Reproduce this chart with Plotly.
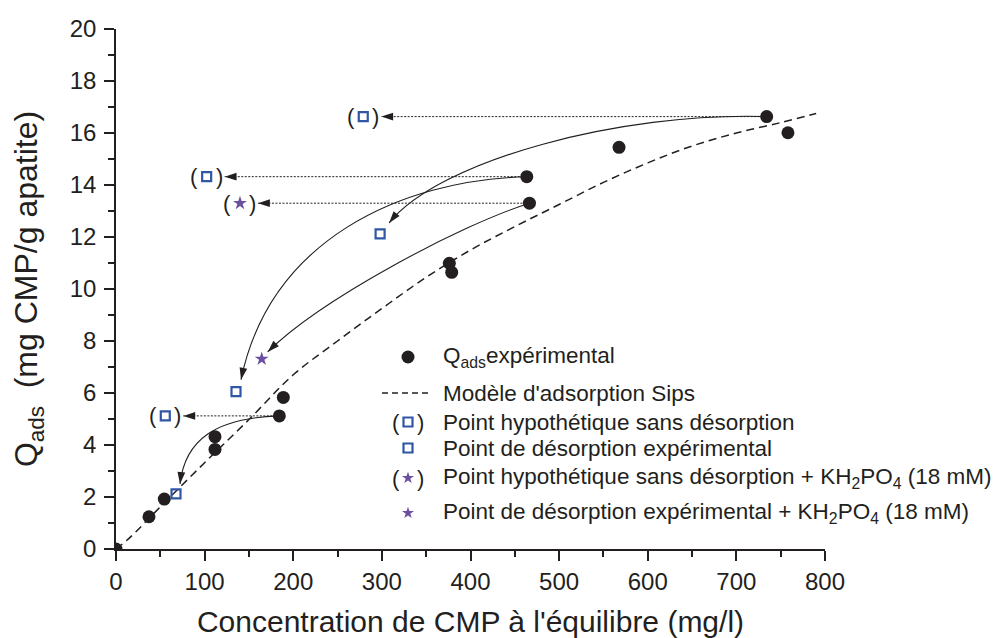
import math
from plotly.graph_objects import Scatter, Figure

# ---- données ----
# Q_ads expérimental
c_exp = [0, 37.2, 54.5, 111.7, 111.7, 184.3, 188.8, 376.1, 378.8, 463.5, 466.5, 567.6, 734.2, 758.2]
q_exp = [0, 1.24, 1.92, 4.32, 3.83, 5.12, 5.83, 10.99, 10.64, 14.32, 13.3, 15.45, 16.63, 16.01]

# modèle d'adsorption de Sips
c_sips = [0, 15, 50, 100, 150, 200, 250, 300, 350, 400, 450, 500, 550, 600, 650, 700, 750, 790]
q_sips = [0, 0.42, 1.62, 3.32, 4.98, 6.7, 8.0, 9.25, 10.45, 11.5, 12.4, 13.25, 14.1, 14.85, 15.5, 16.0, 16.4, 16.75]

# points hypothétiques sans désorption
c_hyp = [279, 102.3, 55.6]
q_hyp = [16.63, 14.32, 5.12]
# points de désorption expérimentaux
c_des = [298, 135.4, 67.7]
q_des = [12.12, 6.05, 2.12]
# avec KH2PO4 (18 mM)
c_hyp_k = [139.9]
q_hyp_k = [13.3]
c_des_k = [164.4]
q_des_k = [7.31]

legend_labels = [
    "Q<sub>ads</sub>expérimental",
    "Modèle d'adsorption Sips",
    "Point hypothétique sans désorption",
    "Point de désorption expérimental",
    "Point hypothétique sans désorption + KH<sub>2</sub>PO<sub>4</sub> (18 mM)",
    "Point de désorption expérimental + KH<sub>2</sub>PO<sub>4</sub> (18 mM)",
]

# ---- mise en page ----
OFF = 8  # marge du <body> de la page html
W, H = 1002 - OFF, 638 - OFF
ML, MT = 116 - OFF, 29 - OFF
PW, PH = 709, 520
MR, MB = W - ML - PW, H - MT - PH
XMAX, YMAX = 800, 20
PX_X = PW / XMAX
PX_Y = PH / YMAX

FONT = "Liberation Sans, Arial"
NOIR = "#231F20"
BLEU = "#3056A6"
VIOLET = "#6A4FA2"


def arrow_angle(x0, y0, x1, y1):
    # angle (degrés, sens horaire depuis le haut) de la flèche allant de (x0,y0) vers (x1,y1)
    dx = (x1 - x0) * PX_X
    dy = -(y1 - y0) * PX_Y
    return math.degrees(math.atan2(dx, -dy))


def tete(fig, x, y, ang):
    fig.add_trace(Scatter(x=[x], y=[y], mode="markers", showlegend=False, hoverinfo="skip",
                          marker=dict(symbol="arrow", size=12.5, color=NOIR, angle=ang, line_width=0)))


def parentheses(fig, x, y, xref="x", yref="y"):
    for txt, sh in (("(", -12.5), (")", 12.5)):
        fig.add_annotation(x=x, y=y, xref=xref, yref=yref, text=txt, showarrow=False, xshift=sh,
                           font=dict(family=FONT, size=22, color=NOIR), xanchor="center", yanchor="middle")


def main():
    fig = Figure()

    # flèches horizontales (pointillés) : point exp -> point hypothétique
    horiz = [(12, c_hyp[0], q_hyp[0]), (9, c_hyp[1], q_hyp[1]),
             (10, c_hyp_k[0], q_hyp_k[0]), (5, c_hyp[2], q_hyp[2])]
    gap = 18 / PX_X
    for i, hx, hy in horiz:
        fig.add_trace(Scatter(x=[c_exp[i], hx + gap], y=[q_exp[i], hy], mode="lines", showlegend=False,
                              hoverinfo="skip", line=dict(color=NOIR, width=1, dash="2px,1.5px")))
        tete(fig, hx + gap, hy, -90)

    # flèches courbes : point exp -> point de désorption
    # (indice départ, cible x, cible y, contrôle 1, contrôle 2, décalage pointe en px)
    courbes = [
        (12, c_des[0], q_des[0], (568.7, 16.81), (365.6, 14.96), (9, -11)),
        (9, c_des[1], q_des[1], (320.4, 14.19), (173.8, 11.88), (5, -12)),
        (10, c_des_k[0], q_des_k[0], (388.1, 12.46), (230.2, 9.58), (6, -7)),
        (5, c_des[2], q_des[2], (111.7, 5.04), (77.9, 4.19), (4, -10)),
    ]
    for i, tx, ty, c1, c2, off in courbes:
        px = tx + off[0] / PX_X
        py = ty - off[1] / PX_Y
        path = "M %g,%g C %g,%g %g,%g %g,%g" % (c_exp[i], q_exp[i], c1[0], c1[1], c2[0], c2[1], px, py)
        fig.add_shape(type="path", path=path, xref="x", yref="y", layer="below",
                      line=dict(color=NOIR, width=1.1))
        tete(fig, px, py, arrow_angle(c2[0], c2[1], px, py))

    # modèle de Sips
    fig.add_trace(Scatter(x=c_sips, y=q_sips, mode="lines", showlegend=False, line_shape="spline",
                          line=dict(color=NOIR, width=1.5, dash="8px,5px")))
    # points
    fig.add_trace(Scatter(x=c_exp, y=q_exp, mode="markers", showlegend=False,
                          marker=dict(symbol="circle", size=13, color=NOIR)))
    fig.add_trace(Scatter(x=c_hyp + c_des, y=q_hyp + q_des, mode="markers", showlegend=False,
                          marker=dict(symbol="square-open", size=9, color=BLEU, line=dict(width=2.2, color=BLEU))))
    fig.add_trace(Scatter(x=c_hyp_k + c_des_k, y=q_hyp_k + q_des_k, mode="markers", showlegend=False,
                          marker=dict(symbol="star", size=10.5, color=VIOLET, line_width=0)))
    for hx, hy in zip(c_hyp + c_hyp_k, q_hyp + q_hyp_k):
        parentheses(fig, hx, hy)

    # ---- légende dessinée à la main (axes superposés, en pixels de la page) ----
    lx, tx = 408, 441
    rows = [357, 393, 422, 448, 478, 513]
    leg = dict(xaxis="x2", yaxis="y2", showlegend=False, hoverinfo="skip", cliponaxis=False)
    fig.add_trace(Scatter(x=[lx], y=[rows[0]], mode="markers", marker=dict(size=13, color=NOIR), **leg))
    fig.add_trace(Scatter(x=[lx - 26, lx + 20], y=[rows[1], rows[1]], mode="lines",
                          line=dict(color=NOIR, width=1.5, dash="6px,4px"), **leg))
    fig.add_trace(Scatter(x=[lx, lx], y=[rows[2], rows[3]], mode="markers",
                          marker=dict(symbol="square-open", size=9, color=BLEU, line=dict(width=2.2, color=BLEU)), **leg))
    fig.add_trace(Scatter(x=[lx, lx], y=[rows[4], rows[5]], mode="markers",
                          marker=dict(symbol="star", size=9, color=VIOLET, line_width=0), **leg))
    parentheses(fig, lx, rows[2], "x2", "y2")
    parentheses(fig, lx, rows[4], "x2", "y2")
    for r, lab in zip(rows, legend_labels):
        fig.add_annotation(x=tx, y=r, xref="x2", yref="y2", text=lab, showarrow=False,
                           xanchor="left", yanchor="middle", font=dict(family=FONT, size=22.5, color=NOIR))

    axe = dict(showline=True, linecolor=NOIR, linewidth=1.6, ticks="outside", ticklen=10, tickwidth=1.5,
               tickcolor=NOIR, showgrid=False, zeroline=False, automargin=False,
               tickfont=dict(family=FONT, size=24, color=NOIR))
    fig.update_layout(
        width=W, height=H, margin=dict(l=ML, r=MR, t=MT, b=MB, autoexpand=False),
        plot_bgcolor="white", paper_bgcolor="white", showlegend=False,
        xaxis=dict(range=[0, XMAX], dtick=100, minor=dict(dtick=50, ticklen=6, ticks="outside", tickcolor=NOIR, tickwidth=1.5),
                   title=dict(text="Concentration de CMP à l'équilibre (mg/l)", standoff=17,
                              font=dict(family=FONT, size=30, color=NOIR)), **axe),
        yaxis=dict(range=[0, YMAX], dtick=2, ticklabelstandoff=3,
                   minor=dict(dtick=1, ticklen=6, ticks="outside", tickcolor=NOIR, tickwidth=1.5),
                   title=dict(text="Q<sub>ads</sub>&nbsp; (mg CMP/g apatite)", standoff=28,
                              font=dict(family=FONT, size=32, color=NOIR)), **axe),
        xaxis2=dict(overlaying="x", range=[ML + OFF, ML + OFF + PW], visible=False),
        yaxis2=dict(overlaying="y", range=[MT + OFF + PH, MT + OFF], visible=False),
    )
    fig.write_html("out.html")


if __name__ == "__main__":
    main()
